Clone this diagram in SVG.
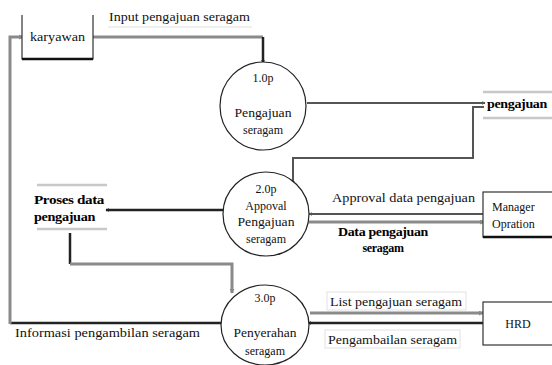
<svg xmlns="http://www.w3.org/2000/svg" width="552" height="365" viewBox="0 0 552 365" font-family="'Liberation Serif', 'Times New Roman', 'DejaVu Serif', serif">
<defs>
<marker id="ahd" viewBox="0 0 6 6" refX="5" refY="3" markerWidth="4" markerHeight="4" orient="auto" markerUnits="userSpaceOnUse">
<path d="M0,0 L6,3 L0,6 z" fill="#555"/>
</marker>
<marker id="ahb" viewBox="0 0 6 6" refX="5" refY="3" markerWidth="4" markerHeight="4" orient="auto" markerUnits="userSpaceOnUse">
<path d="M0,0 L6,3 L0,6 z" fill="#222"/>
</marker>
<marker id="ahg" viewBox="0 0 6 6" refX="5" refY="3" markerWidth="5" markerHeight="5" orient="auto" markerUnits="userSpaceOnUse">
<path d="M0,0 L6,3 L0,6 z" fill="#888"/>
</marker>
</defs>
<style>
text{font-family:'Liberation Serif','Times New Roman','DejaVu Serif',serif;font-size:12px;fill:#111}
.b{font-weight:bold;font-size:12px;fill:#000;letter-spacing:-0.3px}
.proc{fill:#fff;stroke:#222;stroke-width:1.2}
.ent{fill:#fff;stroke:#333;stroke-width:1.2}
.entb{stroke:#111;stroke-width:2.5}
.ds{stroke:#c8c8c8;stroke-width:2.5}
.lbox{fill:#fff;stroke:#e2e2e2;stroke-width:1}
.g{fill:none;stroke:#8a8a8a;stroke-width:3}
.d{fill:none;stroke:#222;stroke-width:2.5}
.m{fill:none;stroke:#555;stroke-width:2}
</style>
<rect width="552" height="365" fill="#fff"/>

<g id="connectors">
<path class="g" d="M93,37 H263"/>
<path class="d" d="M263,37 V63" marker-end="url(#ahb)"/>
<path class="m" d="M307,103 H485" stroke-width="2.2" marker-end="url(#ahd)"/>
<path class="m" d="M484,107 H473 V158 H293 V184" stroke-width="2.5" marker-end="url(#ahd)"/>
<path class="d" d="M223,210 H106" stroke-width="2" marker-end="url(#ahb)"/>
<path class="d" d="M70,233 V264"/>
<path class="g" d="M70,264 H232 V293" stroke-width="2.5" marker-end="url(#ahg)"/>
<path class="d" d="M221,323 H10" stroke-width="2"/>
<path class="g" d="M10,324 V37 H23" marker-end="url(#ahg)"/>
<path class="m" d="M483,214 H309" stroke="#777" marker-end="url(#ahd)"/>
<path class="g" d="M309,222 H484" stroke="#999" marker-end="url(#ahg)"/>
<path class="g" d="M310,313 H483" stroke="#999" marker-end="url(#ahg)"/>
<path class="d" d="M483,323 H308" stroke="#111" stroke-width="2" marker-end="url(#ahb)"/>
</g>

<g id="lbl-input">
<line x1="108" y1="27" x2="252" y2="27" stroke="#e0e0e0" stroke-width="1"/>
<text x="109" y="21" textLength="141" lengthAdjust="spacingAndGlyphs">Input pengajuan seragam</text>
</g>
<g id="lbl-approval">
<text x="332" y="202" textLength="143" lengthAdjust="spacingAndGlyphs">Approval data pengajuan</text>
</g>
<g id="lbl-data">
<text class="b" x="338" y="236" textLength="90" lengthAdjust="spacingAndGlyphs">Data pengajuan</text>
<text class="b" x="383" y="252" text-anchor="middle">seragam</text>
</g>
<g id="lbl-list">
<rect class="lbox" x="327" y="292" width="139" height="18"/>
<text x="330" y="306" textLength="132" lengthAdjust="spacingAndGlyphs">List pengajuan seragam</text>
</g>
<g id="lbl-ambil">
<rect class="lbox" x="325" y="330" width="135" height="18"/>
<text x="328" y="344" textLength="129" lengthAdjust="spacingAndGlyphs">Pengambailan seragam</text>
</g>
<g id="lbl-info">
<text x="15" y="337" textLength="185" lengthAdjust="spacingAndGlyphs">Informasi pengambilan seragam</text>
</g>

<g id="karyawan">
<path d="M22,15 V59 H93 V15" fill="#fff" stroke="#333" stroke-width="1.2"/>
<line class="entb" x1="22" y1="59" x2="93" y2="59"/>
<text x="30" y="41" textLength="55" lengthAdjust="spacingAndGlyphs">karyawan</text>
</g>

<g id="p1">
<ellipse class="proc" cx="263" cy="106" rx="43" ry="44"/>
<text x="263" y="82" text-anchor="middle">1.0p</text>
<text x="263" y="117" text-anchor="middle" textLength="57" lengthAdjust="spacingAndGlyphs">Pengajuan</text>
<text x="263" y="134" text-anchor="middle" font-size="11">seragam</text>
</g>

<g id="p2">
<ellipse class="proc" cx="266" cy="214" rx="43" ry="42"/>
<text x="266" y="193" text-anchor="middle">2.0p</text>
<text x="266" y="210" text-anchor="middle">Appoval</text>
<text x="266" y="226" text-anchor="middle" textLength="57" lengthAdjust="spacingAndGlyphs">Pengajuan</text>
<text x="266" y="243" text-anchor="middle" font-size="11">seragam</text>
</g>

<g id="p3">
<ellipse class="proc" cx="265" cy="325" rx="44" ry="40"/>
<text x="265" y="302" text-anchor="middle">3.0p</text>
<text x="265" y="337" text-anchor="middle" textLength="63" lengthAdjust="spacingAndGlyphs">Penyerahan</text>
<text x="265" y="355" text-anchor="middle" font-size="11">seragam</text>
</g>

<g id="ds-pengajuan">
<line class="ds" x1="483" y1="92" x2="552" y2="92"/>
<line class="ds" x1="483" y1="118" x2="552" y2="118"/>
<text class="b" x="487" y="108" textLength="60" lengthAdjust="spacingAndGlyphs">pengajuan</text>
</g>

<g id="ds-proses">
<line class="ds" x1="37" y1="185" x2="107" y2="185"/>
<line class="ds" x1="37" y1="229" x2="107" y2="229"/>
<text class="b" x="34" y="204" textLength="70" lengthAdjust="spacingAndGlyphs">Proses data</text>
<text class="b" x="34" y="221" textLength="61" lengthAdjust="spacingAndGlyphs">pengajuan</text>
</g>

<g id="manager">
<rect class="ent" x="483" y="192" width="70" height="45"/>
<line class="entb" x1="483" y1="237" x2="552" y2="237"/>
<text x="492" y="211">Manager</text>
<text x="492" y="228">Opration</text>
</g>

<g id="hrd">
<rect class="ent" x="483" y="302" width="70" height="43"/>
<text x="518" y="328" text-anchor="middle">HRD</text>
</g>
</svg>
